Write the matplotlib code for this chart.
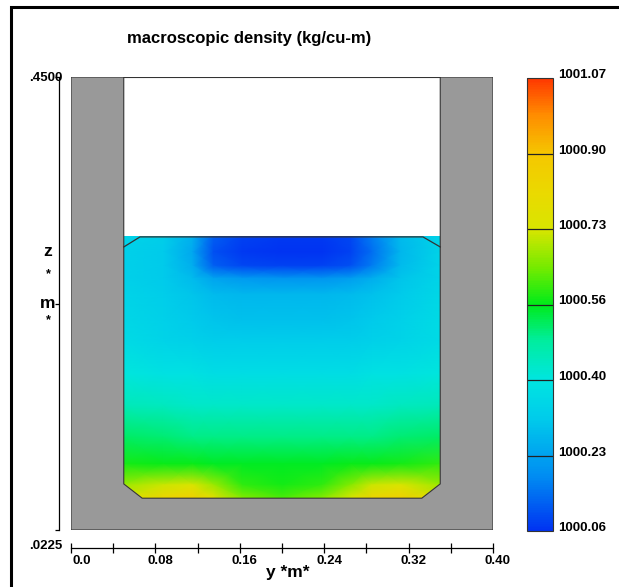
import numpy as np
import matplotlib
matplotlib.use("Agg")
import matplotlib.pyplot as plt
from matplotlib.colors import LinearSegmentedColormap
from matplotlib.patches import Polygon, Rectangle
from matplotlib.transforms import offset_copy

plt.rcParams['font.family'] = ['Liberation Sans', 'DejaVu Sans']

# geometry of the tank (m)
y_min, y_max = 0.0, 0.40
z_min, z_max = 0.0225, 0.45
wall_in_left, wall_in_right = 0.05, 0.35
floor_z = 0.0525
fluid_top = 0.30

# density samples (kg/cu-m) on a coarse grid over the fluid
y_nodes = [0.05, 0.0875, 0.115, 0.135, 0.1625, 0.20, 0.2375, 0.265, 0.285, 0.3125, 0.35]
z_nodes = [0.30, 0.285, 0.272, 0.26, 0.245, 0.22, 0.20, 0.17, 0.14, 0.11, 0.085, 0.065, 0.0525]
rho_rows = [
    [1000.34, 1000.32, 1000.26, 1000.12, 1000.08, 1000.07, 1000.07, 1000.09, 1000.16, 1000.28, 1000.34],
    [1000.33, 1000.31, 1000.24, 1000.10, 1000.07, 1000.06, 1000.06, 1000.08, 1000.14, 1000.27, 1000.34],
    [1000.33, 1000.31, 1000.25, 1000.12, 1000.09, 1000.08, 1000.08, 1000.10, 1000.16, 1000.28, 1000.34],
    [1000.33, 1000.31, 1000.28, 1000.23, 1000.21, 1000.20, 1000.20, 1000.22, 1000.25, 1000.30, 1000.34],
    [1000.34, 1000.32, 1000.30, 1000.28, 1000.27, 1000.27, 1000.27, 1000.28, 1000.29, 1000.31, 1000.35],
    [1000.35, 1000.33, 1000.31, 1000.30, 1000.29, 1000.29, 1000.29, 1000.30, 1000.31, 1000.33, 1000.36],
    [1000.36, 1000.34, 1000.33, 1000.32, 1000.32, 1000.32, 1000.32, 1000.32, 1000.33, 1000.34, 1000.36],
    [1000.40, 1000.38, 1000.38, 1000.37, 1000.37, 1000.37, 1000.37, 1000.37, 1000.38, 1000.38, 1000.40],
    [1000.45, 1000.44, 1000.43, 1000.43, 1000.43, 1000.43, 1000.43, 1000.43, 1000.43, 1000.44, 1000.45],
    [1000.52, 1000.51, 1000.50, 1000.50, 1000.50, 1000.50, 1000.50, 1000.50, 1000.50, 1000.51, 1000.52],
    [1000.58, 1000.57, 1000.57, 1000.56, 1000.56, 1000.56, 1000.56, 1000.57, 1000.57, 1000.58, 1000.60],
    [1000.68, 1000.72, 1000.74, 1000.68, 1000.60, 1000.58, 1000.60, 1000.66, 1000.72, 1000.74, 1000.68],
    [1000.74, 1000.84, 1000.86, 1000.78, 1000.66, 1000.62, 1000.66, 1000.74, 1000.84, 1000.86, 1000.76],
]

rho_min, rho_max = 1000.06, 1001.07
cbar_labels = ['1000.06', '1000.23', '1000.40', '1000.56', '1000.73', '1000.90', '1001.07']
x_major = [0.0, 0.08, 0.16, 0.24, 0.32, 0.40]
x_major_labels = ['0.0', '0.08', '0.16', '0.24', '0.32', '0.40']

cmap = LinearSegmentedColormap.from_list('gmv', [
    (0.00, (0.00, 0.20, 0.95)),
    (0.12, (0.00, 0.55, 0.95)),
    (0.25, (0.00, 0.80, 0.92)),
    (0.333, (0.00, 0.90, 0.88)),
    (0.42, (0.00, 0.93, 0.62)),
    (0.50, (0.00, 0.92, 0.10)),
    (0.58, (0.45, 0.92, 0.00)),
    (0.667, (0.85, 0.90, 0.00)),
    (0.75, (0.92, 0.85, 0.00)),
    (0.833, (0.96, 0.78, 0.00)),
    (0.92, (1.00, 0.55, 0.00)),
    (1.00, (1.00, 0.22, 0.00)),
])

W, H = 619, 587
fig = plt.figure(figsize=(W / 100, H / 100), dpi=100)


def fx(px):
    return px / W


def fy(py):
    return 1 - py / H


ax = fig.add_axes([fx(71), fy(530), fx(493) - fx(71), fy(77) - fy(530)])
ax.set_xlim(y_min, y_max)
ax.set_ylim(z_min, z_max)

edge = '#333333'
ax.add_patch(Rectangle((y_min, z_min), y_max - y_min, z_max - z_min,
                       facecolor='white', edgecolor=edge, lw=0.8, zorder=0))

cw, ch = 0.0175, 0.0135
fluid_clip = Polygon([(wall_in_left, fluid_top), (wall_in_left, floor_z + ch),
                      (wall_in_left + cw, floor_z), (wall_in_right - cw, floor_z),
                      (wall_in_right, floor_z + ch), (wall_in_right, fluid_top)],
                     facecolor='none', edgecolor='none')
ax.add_patch(fluid_clip)

Y, Z = np.meshgrid(y_nodes, z_nodes)
mesh = ax.pcolormesh(Y, Z, np.array(rho_rows), cmap=cmap, vmin=rho_min, vmax=rho_max,
                     shading='gouraud', zorder=1)
mesh.set_clip_path(fluid_clip)

# U-shaped tank walls
walls = Polygon([(y_min, z_min), (y_max, z_min), (y_max, z_max), (wall_in_right, z_max),
                 (wall_in_right, floor_z + ch), (wall_in_right - cw, floor_z),
                 (wall_in_left + cw, floor_z), (wall_in_left, floor_z + ch),
                 (wall_in_left, z_max), (y_min, z_max)],
                facecolor='#999999', edgecolor=edge, lw=0.8, zorder=2)
ax.add_patch(walls)

# free surface outline with its corner bevels
ax.plot([wall_in_left, 0.0654, 0.3336, wall_in_right],
        [0.2896, fluid_top - 0.0009, fluid_top - 0.0009, 0.2896],
        color=edge, lw=0.9, zorder=3)

for s in ['top', 'right']:
    ax.spines[s].set_visible(False)
ax.spines['left'].set_position(('outward', 9))
ax.spines['left'].set_bounds(z_min, z_max)
ax.spines['bottom'].set_position(('outward', 13))
ax.spines['bottom'].set_bounds(y_min, y_max)
for s in ['left', 'bottom']:
    ax.spines[s].set_linewidth(0.9)

ax.set_xticks(np.arange(0, 0.401, 0.04))
ax.set_yticks([z_min, (z_min + z_max) / 2, z_max])
ax.tick_params(axis='x', direction='inout', length=7, width=0.9, labelbottom=False)
ax.tick_params(axis='y', direction='out', length=3, width=0.9, labelleft=False)

tick_font = dict(fontsize=9.5, fontweight='bold')
for val, lab in zip(x_major, x_major_labels):
    dx = 11 if val == 0 else 5
    tr = offset_copy(ax.get_xaxis_transform(), fig=fig, x=dx, y=-25, units='dots')
    ax.text(val, 0, lab, transform=tr, ha='center', va='top', **tick_font)

tr = offset_copy(ax.get_yaxis_transform(), fig=fig, x=-9, y=-1, units='dots')
ax.text(0, z_max, '.4500', transform=tr, ha='right', va='center', **tick_font)
tr = offset_copy(ax.get_yaxis_transform(), fig=fig, x=-9, y=-16, units='dots')
ax.text(0, z_min, '.0225', transform=tr, ha='right', va='center', **tick_font)

fig.text(fx(288), fy(573), 'y *m*', ha='center', va='center', fontsize=12.5, fontweight='bold')
fig.text(fx(48), fy(251), 'z', ha='center', va='center', fontsize=12.5, fontweight='bold')
fig.text(fx(48), fy(274), '*', ha='center', va='center', fontsize=9, fontweight='bold')
fig.text(fx(48), fy(303), 'm', ha='center', va='center', fontsize=12.5, fontweight='bold')
fig.text(fx(48), fy(320), '*', ha='center', va='center', fontsize=9, fontweight='bold')

fig.text(fx(249), fy(38), 'macroscopic density (kg/cu-m)', ha='center', va='center',
         fontsize=12, fontweight='bold')

# colour bar with band boundaries; labels sit just above each boundary
cax = fig.add_axes([fx(527), fy(531), fx(553) - fx(527), fy(78) - fy(531)])
cb = fig.colorbar(mesh, cax=cax)
levels = np.linspace(rho_min, rho_max, len(cbar_labels))
cb.set_ticks([])
cb.outline.set_edgecolor(edge)
cb.outline.set_linewidth(0.8)
for lv, lab in zip(levels, cbar_labels):
    tr = offset_copy(cax.get_yaxis_transform(), fig=fig, x=5, y=3, units='dots')
    cax.text(1, lv, lab, transform=tr, ha='left', va='center', **tick_font)
for lv in levels[1:-1]:
    cax.axhline(lv, color='#222222', lw=0.9)

# page frame
fig.add_artist(Rectangle((fx(11), -0.1), 1.2, fy(7) + 0.1, transform=fig.transFigure,
                         facecolor='none', edgecolor='black', lw=2.2))

fig.savefig('out.png', dpi=100)
